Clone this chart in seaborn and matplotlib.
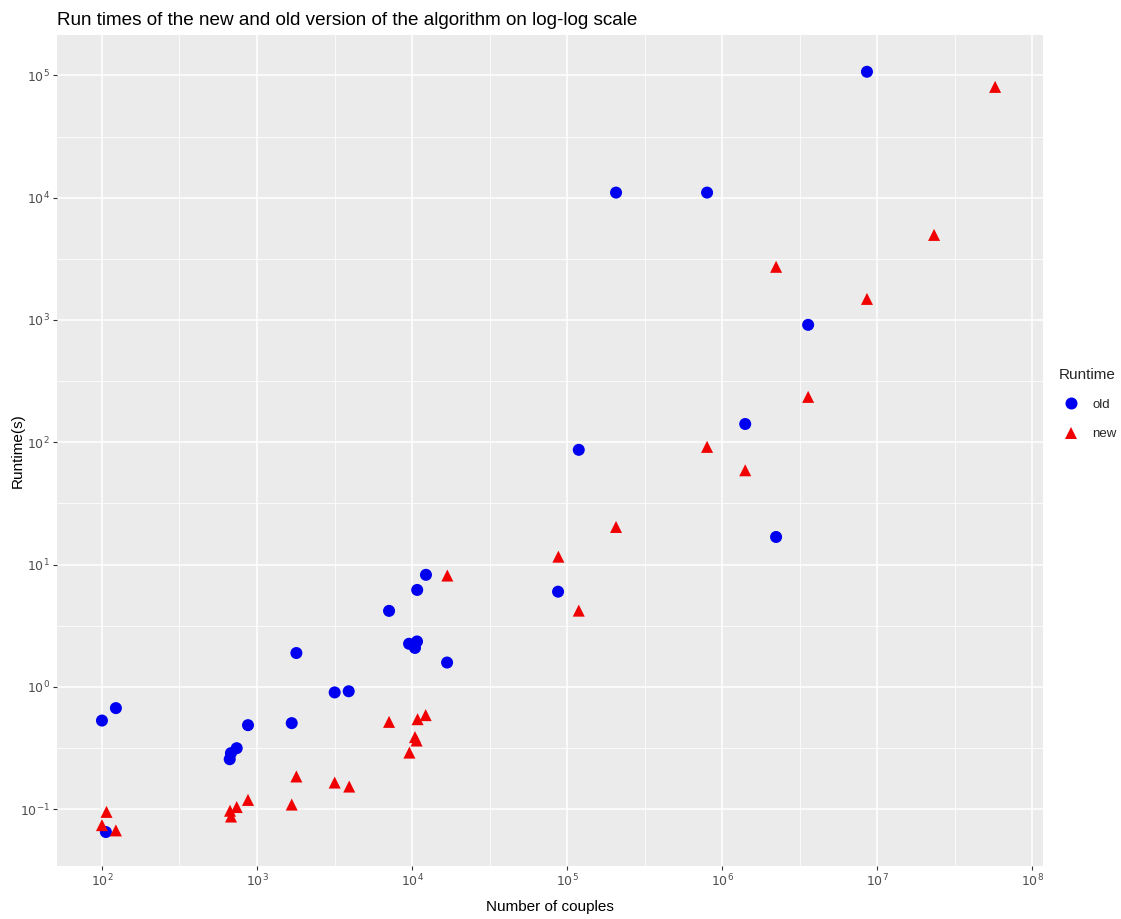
import numpy as np
import pandas as pd
import matplotlib
matplotlib.use("Agg")
import matplotlib.pyplot as plt
import seaborn as sns
from matplotlib.ticker import FixedLocator, FuncFormatter, NullFormatter

# ---- data ----
couples_old = [100, 123, 106, 667, 679, 740, 875, 1675, 1795, 3170, 3905, 7110,
               9570, 10450, 10770, 10800, 12300, 16830, 87500, 119000,
               207000, 800000, 1410000, 2230000, 3590000, 8600000]
runtime_old = [0.53, 0.67, 0.065, 0.256, 0.287, 0.315, 0.486, 0.505, 1.89, 0.90, 0.92, 4.18,
               2.25, 2.08, 2.35, 6.2, 8.24, 1.58, 6.0, 86.7,
               11000, 11000, 141, 16.8, 912, 107000]

couples_new = [100, 107, 123, 670, 680, 740, 875, 1675, 1795, 3170, 3935, 7110,
               9620, 10450, 10700, 10860, 12250, 16900, 87900, 119000,
               207000, 800000, 1410000, 2230000, 3590000, 8600000, 23300000, 57700000]
runtime_new = [0.074, 0.095, 0.067, 0.097, 0.087, 0.104, 0.119, 0.109, 0.185, 0.165, 0.153, 0.517,
               0.29, 0.388, 0.364, 0.544, 0.587, 8.13, 11.6, 4.2,
               20.3, 91.7, 59, 2720, 235, 1487, 4960, 80500]

series_labels = ["old", "new"]
x_ticks = [1e2, 1e3, 1e4, 1e5, 1e6, 1e7, 1e8]
y_ticks = [1e-1, 1e0, 1e1, 1e2, 1e3, 1e4, 1e5]

df = pd.DataFrame({
    "couples": couples_old + couples_new,
    "runtime": runtime_old + runtime_new,
    "Runtime": [series_labels[0]] * len(couples_old) + [series_labels[1]] * len(couples_new),
})

sns.set_theme(style="darkgrid")
plt.rcParams["font.family"] = ["Liberation Sans", "DejaVu Sans"]

fig = plt.figure(figsize=(11.21, 9.19), dpi=100)
ax = fig.add_axes([57 / 1121, 1 - 866 / 919, (1043 - 57) / 1121, (866 - 35) / 919])
ax.set_facecolor("#EBEBEB")

sns.scatterplot(data=df, x="couples", y="runtime", hue="Runtime", style="Runtime",
                hue_order=series_labels, style_order=series_labels,
                palette={"old": "#0000F0", "new": "#F00000"},
                markers={"old": "o", "new": "^"}, s=75, linewidth=0, ax=ax, zorder=3)

ax.set_xscale("log")
ax.set_yscale("log")
ax.set_xlim(10 ** 1.71, 10 ** 8.07)
ax.set_ylim(10 ** -1.465, 10 ** 5.33)

ax.xaxis.set_major_locator(FixedLocator(x_ticks))
ax.yaxis.set_major_locator(FixedLocator(y_ticks))
ax.xaxis.set_minor_locator(FixedLocator([10 ** (k + 0.5) for k in range(1, 8)]))
ax.yaxis.set_minor_locator(FixedLocator([10 ** (k + 0.5) for k in range(-2, 6)]))
ax.xaxis.set_minor_formatter(NullFormatter())
ax.yaxis.set_minor_formatter(NullFormatter())
fmt = FuncFormatter(lambda v, p: r"$10^{%d}$" % int(round(np.log10(v))))
ax.xaxis.set_major_formatter(fmt)
ax.yaxis.set_major_formatter(fmt)

ax.grid(which="major", color="white", linewidth=1.1)
ax.grid(which="minor", color="white", linewidth=0.55)
for sp in ax.spines.values():
    sp.set_visible(False)
ax.tick_params(axis="both", which="major", length=3, width=0.8, color="#333333",
               labelcolor="#4D4D4D", labelsize=9, pad=2, bottom=True, left=True)
ax.tick_params(axis="both", which="minor", length=0)

ax.set_xlabel("Number of couples", fontsize=11, color="black", va="center")
ax.set_ylabel("Runtime(s)", fontsize=11, color="black", va="center")
ax.xaxis.set_label_coords(0.5, -(907 - 866) / 831)
ax.yaxis.set_label_coords(-(57 - 18) / 986, 0.5)
ax.set_title("Run times of the new and old version of the algorithm on log-log scale",
             fontsize=13.6, loc="left", pad=7, color="black")

sns.move_legend(ax, "center left", bbox_to_anchor=(1.003, 0.556), frameon=False,
                title="Runtime", fontsize=9.5, title_fontsize=11, markerscale=1.0,
                handletextpad=0.6, labelspacing=1.3)

fig.savefig("out.png", dpi=100)
